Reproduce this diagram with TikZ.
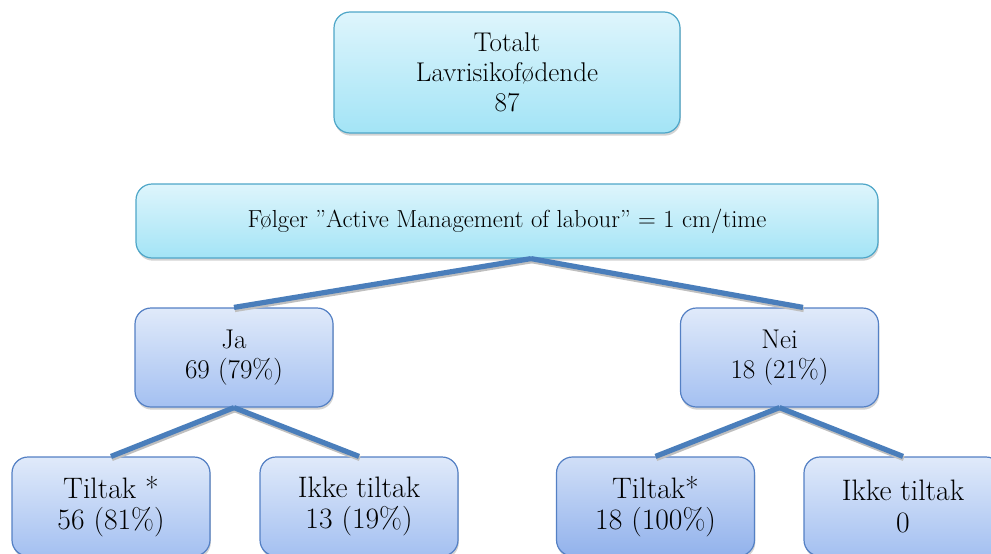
\documentclass[tikz,border=0pt]{standalone}
\usepackage{tikz}
\usepackage{color}
\usetikzlibrary{shadows,calc}

\definecolor{cyantop}{RGB}{222,245,252}
\definecolor{cyanbot}{RGB}{163,228,246}
\definecolor{cyanline}{RGB}{78,166,200}
\definecolor{bluetop}{RGB}{224,234,250}
\definecolor{bluebot}{RGB}{164,192,241}
\definecolor{bluedeep}{RGB}{146,178,236}
\definecolor{blueline}{RGB}{84,128,196}
\definecolor{branchcol}{RGB}{74,126,187}

\begin{document}
\begin{tikzpicture}[x=0.75pt,y=0.75pt,yscale=-1,xscale=1,
	box/.style={rounded corners=12pt, line width=0.9pt, align=center, inner sep=0pt,
		drop shadow={opacity=0.35, shadow xshift=0.6pt, shadow yshift=-2pt}},
	cyanbox/.style={box, draw=cyanline, top color=cyantop, bottom color=cyanbot},
	bluebox/.style={box, draw=blueline, top color=bluetop, bottom color=bluebot},
	headfont/.style={font=\fontsize{18.5}{22.5}\selectfont},
	midfont/.style={font=\fontsize{20.3}{22.3}\selectfont},
	lowfont/.style={font=\fontsize{22.2}{23.5}\selectfont},
	branch/.style={draw=branchcol, line width=3.9pt,
		preaction={draw=black!25, line width=3.9pt, transform canvas={shift={(0.6pt,-1.6pt)}}}}]
	\clip (0,0) rectangle (991,553);
	
	%Shape: Rounded Rectangle [top]
	\node (total) at (507,72.5) [cyanbox, midfont, minimum width=259.5pt, minimum height=90.75pt] {Totalt\\Lavrisikofødende\\87};
	%Shape: Rounded Rectangle [question]
	\node (folger) at (507,221) [cyanbox, headfont, minimum width=556.5pt, minimum height=55.5pt] {Følger ”Active Management of labour” = 1 cm/time};
	
	%Shape: Rounded Rectangle [ja / nei]
	\node (ja) at (234,357.5) [bluebox, midfont, minimum width=148.5pt, minimum height=74.25pt] {Ja\\69 (79\%)};
	\node (nei) at (779.5,357.5) [bluebox, midfont, minimum width=148.5pt, minimum height=74.25pt] {Nei\\18 (21\%)};
	
	%Shape: Rounded Rectangle [bottom row]
	\node (jatiltak) at (111,506.5) [bluebox, lowfont, minimum width=148.5pt, minimum height=74.25pt] {Tiltak *\\56 (81\%)};
	\node (jaikke) at (359,506.5) [bluebox, lowfont, minimum width=148.5pt, minimum height=74.25pt] {Ikke tiltak\\13 (19\%)};
	\node (neitiltak) at (655.5,506.5) [bluebox, lowfont, top color=bluetop!80!bluedeep, bottom color=bluedeep, minimum width=148.5pt, minimum height=74.25pt] {Tiltak*\\18 (100\%)};
	\node (neiikke) at (903,506.5) [bluebox, lowfont, minimum width=148.5pt, minimum height=74.25pt] {Ikke tiltak\\0};
	
	%Straight Lines [branches]
	\coordinate (hub) at ($(folger.south)+(24,0)$);
	\draw [branch] (hub) -- (ja.north);
	\draw [branch] (hub) -- ($(nei.north)+(23.5,0)$);
	\draw [branch] (ja.south) -- (jatiltak.north);
	\draw [branch] (ja.south) -- (jaikke.north);
	\draw [branch] (nei.south) -- (neitiltak.north);
	\draw [branch] (nei.south) -- (neiikke.north);
	
\end{tikzpicture}
\end{document}
